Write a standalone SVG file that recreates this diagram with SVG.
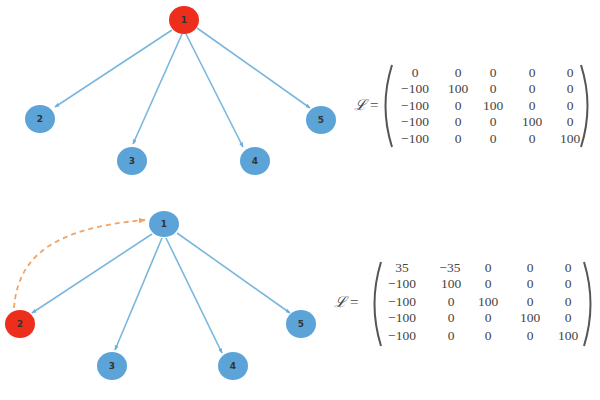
<svg xmlns="http://www.w3.org/2000/svg" width="600" height="400" viewBox="0 0 600 400">
<defs>
<marker id="ab" viewBox="0 0 10 10" refX="9" refY="5" markerWidth="5" markerHeight="5" orient="auto-start-reverse" markerUnits="userSpaceOnUse">
<path d="M0,1 L10,5 L0,9 z" fill="#6aaede"/>
</marker>
<marker id="ao" viewBox="0 0 10 10" refX="9" refY="5" markerWidth="7" markerHeight="7" orient="auto" markerUnits="userSpaceOnUse">
<path d="M0,1 L10,5 L0,9 z" fill="#f2a064"/>
</marker>
</defs>
<style>
.e{stroke:#7ab6de;stroke-width:1.6;fill:none;marker-end:url(#ab)}
.d{stroke:#f2a468;stroke-width:1.8;fill:none;stroke-dasharray:5 4;marker-end:url(#ao)}
.nb{fill:#5ca4d8}
.nr{fill:#ee2e1c}
.nl{font-family:"DejaVu Sans",sans-serif;font-size:9px;font-weight:bold;fill:#333;text-anchor:middle}
.m{font-family:"Liberation Serif","Times New Roman",serif;font-size:13.5px;fill:#444;text-anchor:middle}
.L{font-family:"DejaVu Serif",serif;font-size:15px;font-style:italic;fill:#444}
.eq{font-family:"Liberation Serif",serif;font-size:15px;fill:#444}
.p{stroke:#555;stroke-width:2;fill:none}
</style>
<g id="connectors">
<line class="e" x1="172" y1="30" x2="55" y2="107"/>
<line class="e" x1="182" y1="34" x2="133" y2="144"/>
<line class="e" x1="186" y1="34" x2="243" y2="147"/>
<line class="e" x1="197" y1="28" x2="310" y2="108"/>
<line class="e" x1="152" y1="234" x2="32" y2="313"/>
<line class="e" x1="162" y1="238" x2="115" y2="350"/>
<line class="e" x1="166" y1="238" x2="222" y2="353"/>
<line class="e" x1="177" y1="233" x2="290" y2="313"/>
<path class="d" d="M14,308 C18,255 55,228 145,220"/>
</g>
<g id="t1"><ellipse class="nr" cx="184" cy="20" rx="15" ry="14"/><text class="nl" x="184" y="23">1</text></g>
<g id="t2"><ellipse class="nb" cx="40" cy="119" rx="15" ry="14"/><text class="nl" x="40" y="122">2</text></g>
<g id="t3"><ellipse class="nb" cx="132" cy="161" rx="15" ry="14"/><text class="nl" x="132" y="164">3</text></g>
<g id="t4"><ellipse class="nb" cx="255" cy="161" rx="15" ry="14"/><text class="nl" x="255" y="164">4</text></g>
<g id="t5"><ellipse class="nb" cx="321" cy="120" rx="15" ry="14"/><text class="nl" x="321" y="123">5</text></g>
<g id="b1"><ellipse class="nb" cx="164" cy="224" rx="15" ry="13"/><text class="nl" x="164" y="227">1</text></g>
<g id="b2"><ellipse class="nr" cx="20" cy="324" rx="15" ry="14"/><text class="nl" x="20" y="327">2</text></g>
<g id="b3"><ellipse class="nb" cx="112" cy="366" rx="15" ry="14"/><text class="nl" x="112" y="369">3</text></g>
<g id="b4"><ellipse class="nb" cx="233" cy="366" rx="15" ry="14"/><text class="nl" x="233" y="369">4</text></g>
<g id="b5"><ellipse class="nb" cx="301" cy="324" rx="15" ry="14"/><text class="nl" x="301" y="327">5</text></g>
<g id="matrix1">
<text class="L" x="354" y="110">ℒ</text><text class="eq" x="370" y="110">=</text>
<path class="p" d="M392,65 Q379,106 392,147"/>
<path class="p" d="M581,65 Q594,106 581,147"/>
<text class="m" x="415" y="77">0</text><text class="m" x="458" y="77">0</text><text class="m" x="493" y="77">0</text><text class="m" x="532" y="77">0</text><text class="m" x="570" y="77">0</text>
<text class="m" x="415" y="93">−100</text><text class="m" x="458" y="93">100</text><text class="m" x="493" y="93">0</text><text class="m" x="532" y="93">0</text><text class="m" x="570" y="93">0</text>
<text class="m" x="415" y="110">−100</text><text class="m" x="458" y="110">0</text><text class="m" x="493" y="110">100</text><text class="m" x="532" y="110">0</text><text class="m" x="570" y="110">0</text>
<text class="m" x="415" y="126">−100</text><text class="m" x="458" y="126">0</text><text class="m" x="493" y="126">0</text><text class="m" x="532" y="126">100</text><text class="m" x="570" y="126">0</text>
<text class="m" x="415" y="143">−100</text><text class="m" x="458" y="143">0</text><text class="m" x="493" y="143">0</text><text class="m" x="532" y="143">0</text><text class="m" x="570" y="143">100</text>
</g>
<g id="matrix2">
<text class="L" x="334" y="307">ℒ</text><text class="eq" x="350" y="307">=</text>
<path class="p" d="M381,262 Q368,304 381,346"/>
<path class="p" d="M584,262 Q597,304 584,346"/>
<text class="m" x="402" y="272">35</text><text class="m" x="450" y="272">−35</text><text class="m" x="488" y="272">0</text><text class="m" x="530" y="272">0</text><text class="m" x="568" y="272">0</text>
<text class="m" x="402" y="288">−100</text><text class="m" x="451" y="288">100</text><text class="m" x="488" y="288">0</text><text class="m" x="530" y="288">0</text><text class="m" x="568" y="288">0</text>
<text class="m" x="402" y="306">−100</text><text class="m" x="451" y="306">0</text><text class="m" x="488" y="306">100</text><text class="m" x="530" y="306">0</text><text class="m" x="568" y="306">0</text>
<text class="m" x="402" y="322">−100</text><text class="m" x="451" y="322">0</text><text class="m" x="488" y="322">0</text><text class="m" x="530" y="322">100</text><text class="m" x="568" y="322">0</text>
<text class="m" x="402" y="340">−100</text><text class="m" x="451" y="340">0</text><text class="m" x="488" y="340">0</text><text class="m" x="530" y="340">0</text><text class="m" x="568" y="340">100</text>
</g>
</svg>
